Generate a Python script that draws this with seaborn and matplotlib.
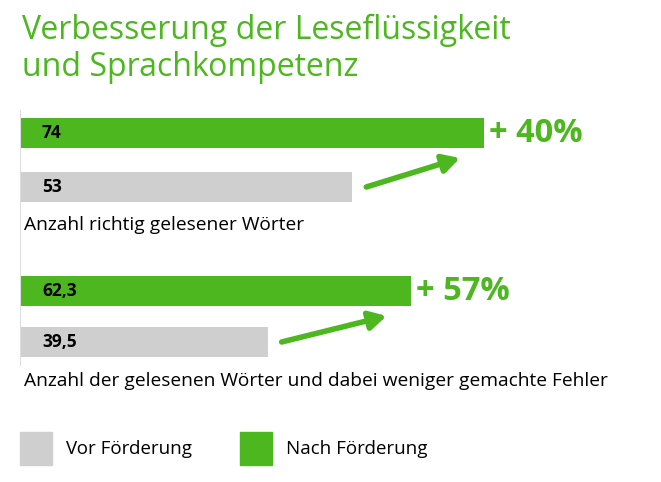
import pandas as pd
import matplotlib.pyplot as plt
import seaborn as sns
from matplotlib.patches import Rectangle

plt.rcParams["font.family"] = "Open Sans"

# data
groups = ["Anzahl richtig gelesener Wörter",
          "Anzahl der gelesenen Wörter und dabei weniger gemachte Fehler"]
nach = [74, 62.3]
vor = [53, 39.5]
value_labels_nach = ["74", "62,3"]
value_labels_vor = ["53", "39,5"]
increase = ["+ 40%", "+ 57%"]

GREEN = "#4cb71f"
GRAY = "#d0cfd0"

# layout (pixel rows)
rows = [133, 187, 291, 342]
df = pd.DataFrame({
    "value": [nach[0], vor[0], nach[1], vor[1]],
    "row": rows,
    "kind": ["nach", "vor", "nach", "vor"],
})

fig = plt.figure(figsize=(6.61, 4.82), dpi=100)
ax = fig.add_axes([20 / 661, 0, 1 - 20 / 661, 1])
sns.barplot(data=df, x="value", y="row", hue="kind", orient="h", native_scale=True,
            palette={"nach": GREEN, "vor": GRAY}, width=0.6, dodge=False,
            legend=False, ax=ax, saturation=1)
px = 6.27
ax.set_xlim(0, 641 / px)
ax.set_ylim(482, 0)
ax.axis("off")
ax.plot([0, 0], [110, 365], color="#dddddd", lw=0.8)

for i in range(2):
    yn, yv = rows[2 * i], rows[2 * i + 1]
    ax.text(22 / px, yn, value_labels_nach[i], va="center", fontsize=12.5, fontweight="bold")
    ax.text(22 / px, yv, value_labels_vor[i], va="center", fontsize=12.5, fontweight="bold")
    ax.text(nach[i] + 5 / px, yn, increase[i], va="center", color=GREEN,
            fontsize=23.5, fontweight="bold")
    ax.annotate("", xy=(nach[i] - 24 / px, yn + 25), xytext=(vor[i] + 14 / px, yv),
                arrowprops=dict(arrowstyle="-|>,head_length=1.0,head_width=0.55",
                                color=GREEN, lw=4, shrinkA=0, shrinkB=0))
    ax.text(4 / px, yv + 38 if i == 0 else yv + 39, groups[i], va="center", fontsize=13.8)

fig.text(22 / 661, 1 - 30 / 482, "Verbesserung der Leseflüssigkeit", color=GREEN,
         fontsize=23, va="center")
fig.text(22 / 661, 1 - 68 / 482, "und Sprachkompetenz", color=GREEN,
         fontsize=23, va="center")

# legend
fig.patches.append(Rectangle((20 / 661, 1 - 465 / 482), 32 / 661, 33 / 482,
                             transform=fig.transFigure, color=GRAY))
fig.text(66 / 661, 1 - 449 / 482, "Vor Förderung", fontsize=13.5, va="center")
fig.patches.append(Rectangle((240 / 661, 1 - 465 / 482), 32 / 661, 33 / 482,
                             transform=fig.transFigure, color=GREEN))
fig.text(286 / 661, 1 - 449 / 482, "Nach Förderung", fontsize=13.5, va="center")

fig.savefig("out.png", dpi=100)
